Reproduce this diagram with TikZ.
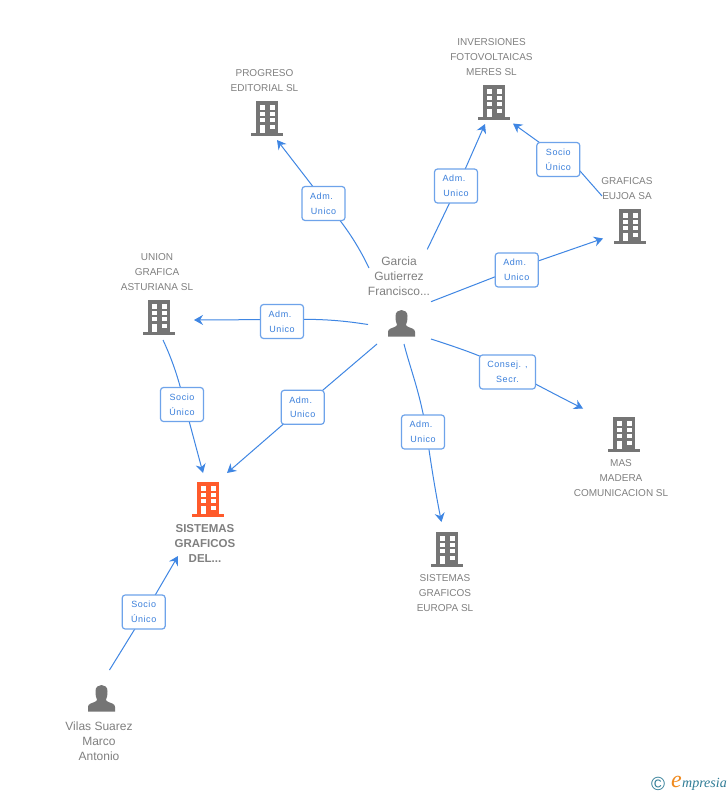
\documentclass[tikz,border=0pt]{standalone}
\usepackage{fontspec}
\setmainfont{Liberation Sans}
\newfontfamily\lblfont[LetterSpace=6]{Liberation Sans}
\newfontfamily\logofont{Liberation Serif}
\usetikzlibrary{arrows.meta}
\definecolor{ico}{HTML}{757575}
\definecolor{txt}{HTML}{808080}
\definecolor{lnk}{HTML}{3F86E3}
\definecolor{bord}{HTML}{6EA3EA}
\definecolor{lbl}{HTML}{3A7FDB}
\definecolor{hot}{HTML}{FF5A2B}
\definecolor{logob}{HTML}{2F7C96}
\definecolor{logoo}{HTML}{F08A1E}
\tikzset{
  x=1pt,y=-1pt,
  conn/.style={draw=lnk,line width=1pt,-{Stealth[length=9pt,width=10pt,inset=3pt]}},
  lab/.style={draw=bord,line width=1.2pt,rounded corners=3pt,fill=white,minimum width=43pt,minimum height=34pt,inner sep=0pt,align=center,text=lbl,font=\lblfont\fontsize{9}{14.6}\selectfont},
  nm/.style={text=txt,align=center,inner sep=0pt,font=\fontsize{10}{15}\selectfont},
  pnm/.style={nm,font=\fontsize{12}{15}\selectfont},
  bnm/.style={nm,font=\bfseries\fontsize{11.5}{15}\selectfont}
}
\newcommand{\admtxt}{Adm.\hspace*{4pt}\\Unico}
\newcommand{\soctxt}{Socio\\Único}
\newcommand{\bld}[3]{%
 \begin{scope}[shift={(#1,#2)}]
  \fill[#3] (-11,-17) rectangle (11,15);
  \fill[#3] (-16,14.7) rectangle (16,17.7);
  \foreach \yy/\hh in {-13/5,-6.5/4.5,0/4.2} {\fill[white] (-7.3,\yy) rectangle (-2.3,\yy+\hh); \fill[white] (2.5,\yy) rectangle (7.7,\yy+\hh);}
  \fill[white] (2.5,7) rectangle (7.7,11.3);
  \fill[white] (-7.3,7) rectangle (-2.3,14.7);
 \end{scope}}
\newcommand{\per}[2]{%
 \begin{scope}[shift={(#1,#2)}]
  \fill[ico] (-13.5,13.7) -- (-13.5,9) .. controls (-13.5,6) and (-10,5) .. (-7,4) .. controls (-5.5,3.3) and (-4.5,2.8) .. (-4.5,1.5) .. controls (-5.5,0) and (-6,-3) .. (-6,-7) .. controls (-6,-11) and (-3,-13) .. (0,-13) .. controls (3,-13) and (6,-11) .. (6,-7) .. controls (6,-3) and (5.5,0) .. (4.5,1.5) .. controls (4.5,2.8) and (5.5,3.3) .. (7,4) .. controls (10,5) and (13.5,6) .. (13.5,9) -- (13.5,13.7) -- cycle;
 \end{scope}}
\begin{document}
\begin{tikzpicture}
\useasboundingbox[fill=white] (0,0) rectangle (728,795);
% connector ends
\coordinate (g1) at (369,268); \coordinate (e1) at (277,140);
\coordinate (g2) at (427.3,249.3); \coordinate (e2) at (485,124);
\coordinate (s3) at (602,196); \coordinate (e3) at (513,123.5);
\coordinate (g4) at (431,301.7); \coordinate (e4) at (603,238.5);
\coordinate (g5) at (368,324.5); \coordinate (e5) at (194,320);
\coordinate (g6) at (377,344); \coordinate (e6) at (227,473);
\coordinate (g7) at (404,344); \coordinate (e7) at (441.5,522);
\coordinate (g8) at (431,339); \coordinate (e8) at (583,408.5);
\coordinate (s9) at (163,340); \coordinate (e9) at (203,473);
\coordinate (s10) at (109.5,670); \coordinate (e10) at (178,556);
% points that the connectors pass behind their labels
\coordinate (v1) at (326,203.5);
\coordinate (v2) at (457.5,186.5);
\coordinate (v3) at (559,156.6);
\coordinate (v4) at (516.5,268.5);
\coordinate (v5) at (282,319.5);
\coordinate (v6) at (302.7,407.3);
\coordinate (v7) at (426.5,432);
\coordinate (v8) at (508,369.5);
\coordinate (v9) at (184.5,404);
\coordinate (v10) at (145,612.5);
\draw[conn] (g1) .. controls (358,245) and (345,225) .. (v1) -- (e1);
\draw[conn] (g2) -- (v2) -- (e2);
\draw[conn] (s3) -- (580,171) -- (v3) -- (e3);
\draw[conn] (g4) -- (v4) -- (e4);
\draw[conn] (g5) .. controls (345,321) and (325,318.5) .. (v5) -- (e5);
\draw[conn] (g6) -- (v6) -- (e6);
\draw[conn] (g7) .. controls (410,368) and (420,392) .. (v7) .. controls (431,465) and (436,495) .. (e7);
\draw[conn] (g8) .. controls (462,349) and (488,358) .. (v8) .. controls (528,380) and (555,394.5) .. (e8);
\draw[conn] (s9) .. controls (170,355) and (178,375) .. (v9) -- (e9);
\draw[conn] (s10) -- (v10) -- (e10);
% labels
\node[lab] (l1) at (323.5,203.5) {\admtxt};
\node[lab] (l2) at (456,186) {\admtxt};
\node[lab] (l3) at (558.3,159.5) {\soctxt};
\node[lab] (l4) at (516.7,270) {\admtxt};
\node[lab] (l5) at (282,321.5) {\admtxt};
\node[lab] (l6) at (302.7,407.3) {\admtxt};
\node[lab] (l7) at (423,432) {\admtxt};
\node[lab,minimum width=56pt] (l8) at (507.5,372) {Consej. ,\\Secr.};
\node[lab] (l9) at (182,404.5) {\soctxt};
\node[lab] (l10) at (143.7,612) {\soctxt};
% icons
\bld{267}{118}{ico}
\bld{494}{102}{ico}
\bld{630}{226}{ico}
\bld{159}{317}{ico}
\bld{208}{499}{hot}
\bld{624}{434}{ico}
\bld{447}{549}{ico}
\per{401.5}{323}
\per{101.5}{698}
% names
\node[nm] (n1) at (264.5,80.5) {PROGRESO\\EDITORIAL SL};
\node[nm] (n2) at (491.5,57) {INVERSIONES\\FOTOVOLTAICAS\\MERES SL};
\node[nm] (n3) at (627,188.5) {GRAFICAS\\EUJOA SA};
\node[nm] (n4) at (157,272) {UNION\\GRAFICA\\ASTURIANA SL};
\node[pnm] (n5) at (399,276) {Garcia\\Gutierrez\\Francisco...};
\node[bnm] (n6) at (205,543) {SISTEMAS\\GRAFICOS\\DEL...};
\node[nm] (n7) at (621,478.5) {MAS\\MADERA\\COMUNICACION SL};
\node[nm] (n8) at (445,593.5) {SISTEMAS\\GRAFICOS\\EUROPA SL};
\node[pnm] (n9) at (99,741) {Vilas Suarez\\Marco\\Antonio};
% logo
\node[inner sep=0pt,text=logob,font=\fontsize{19}{19}\selectfont] (c) at (658,784) {©};
\node[anchor=west,inner sep=0pt,text=logoo,font=\logofont\itshape\fontsize{24}{24}\selectfont] (e) at (671,782) {e};
\node[anchor=west,inner sep=0pt,text=logob,font=\logofont\itshape\fontsize{14}{14}\selectfont] (m) at (682,784.5) {mpresia};
\end{tikzpicture}
\end{document}
